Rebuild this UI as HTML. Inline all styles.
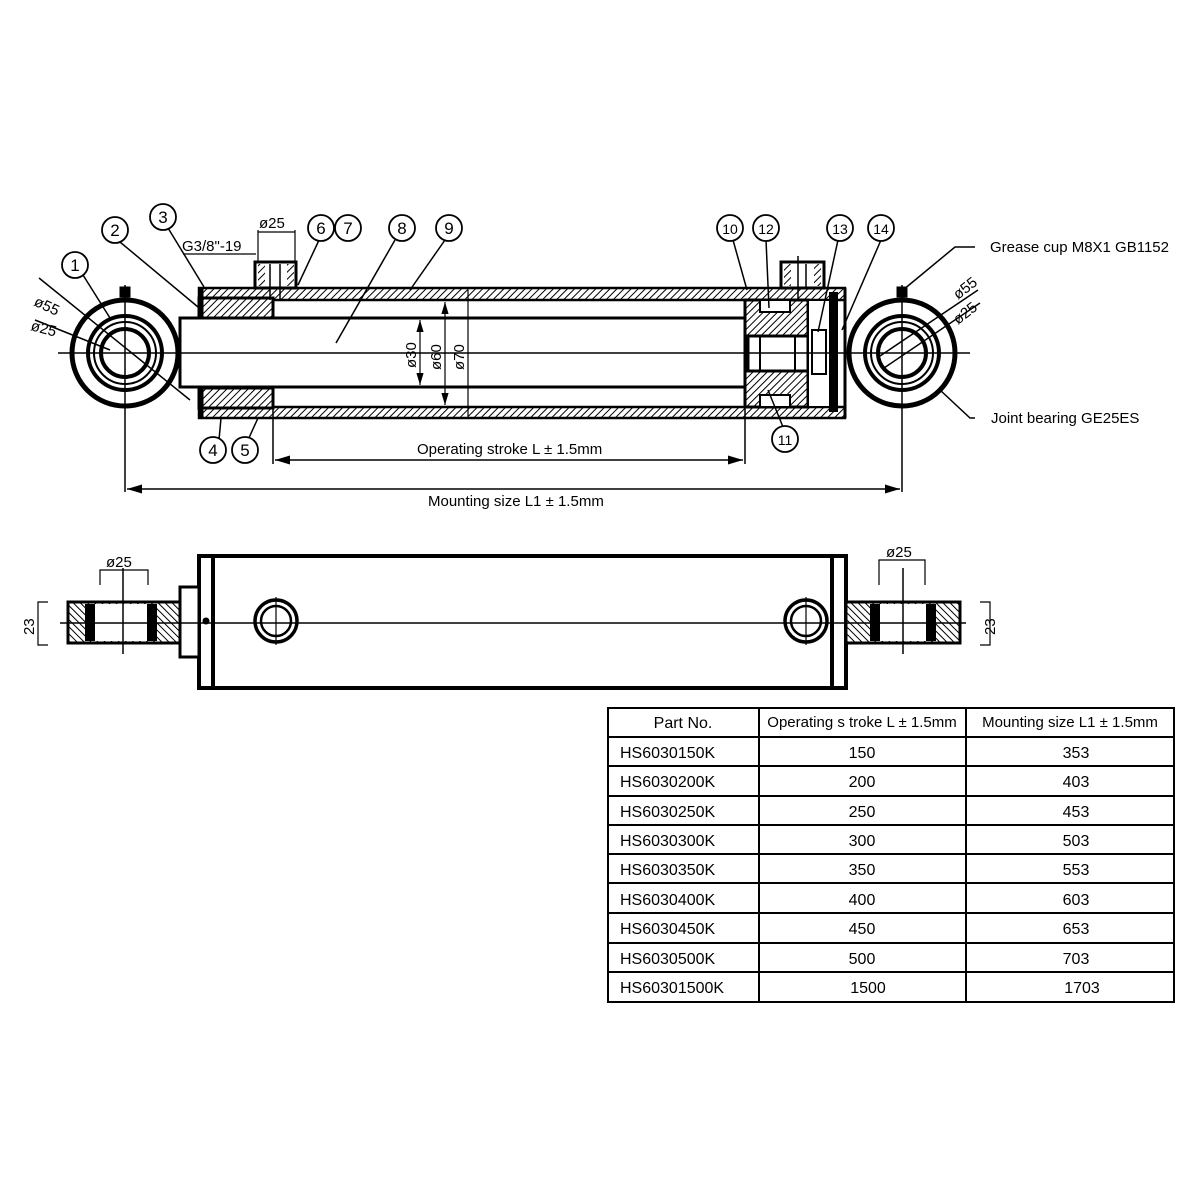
<!DOCTYPE html>
<html><head><meta charset="utf-8"><style>
html,body{margin:0;padding:0;background:#fff}
svg{display:block}
text{font-family:"Liberation Sans Narrow","Liberation Sans",sans-serif;fill:#000}
</style></head><body>
<svg width="1200" height="1200" viewBox="0 0 1200 1200" xmlns="http://www.w3.org/2000/svg">
<defs>
<pattern id="h" width="5" height="5" patternUnits="userSpaceOnUse" patternTransform="rotate(45)">
<rect width="5" height="5" fill="#fff"/><line x1="0" y1="0" x2="0" y2="5" stroke="#000" stroke-width="2"/></pattern>
<pattern id="h2" width="5" height="5" patternUnits="userSpaceOnUse" patternTransform="rotate(-45)">
<rect width="5" height="5" fill="#fff"/><line x1="0" y1="0" x2="0" y2="5" stroke="#000" stroke-width="2"/></pattern>
<marker id="a" viewBox="0 0 10 6" refX="10" refY="3" markerWidth="10" markerHeight="6" orient="auto-start-reverse"><path d="M0,0L10,3L0,6z"/></marker>
</defs>
<g stroke="#000" fill="none">
<!-- tube walls -->
<rect x="199" y="288" width="646" height="12" fill="url(#h)" stroke-width="2.5"/>
<rect x="199" y="407" width="646" height="11" fill="url(#h)" stroke-width="2.5"/>
<line x1="845" y1="288" x2="845" y2="418" stroke-width="3"/>
<!-- gland -->
<rect x="199" y="298" width="74" height="20" fill="url(#h)" stroke-width="3"/>
<rect x="199" y="388" width="74" height="20" fill="url(#h)" stroke-width="3"/>
<line x1="201" y1="288" x2="201" y2="418" stroke-width="5"/>
<!-- rod -->
<rect x="180" y="318" width="566" height="69" fill="#fff" stroke-width="3"/>
<!-- piston -->
<rect x="745" y="300" width="63" height="107" fill="url(#h)" stroke-width="3"/>
<rect x="760" y="300" width="30" height="12" fill="#fff" stroke-width="2"/>
<rect x="760" y="395" width="30" height="12" fill="#fff" stroke-width="2"/>
<rect x="748" y="336" width="60" height="35" fill="#fff" stroke-width="3"/>
<line x1="760" y1="336" x2="760" y2="371" stroke-width="2"/>
<line x1="795" y1="336" x2="795" y2="371" stroke-width="2"/>
<rect x="808" y="300" width="22" height="107" fill="#fff" stroke-width="2"/>
<rect x="812" y="330" width="14" height="44" fill="#fff" stroke-width="2"/>
<rect x="829" y="292" width="9" height="120" fill="#000" stroke="none"/>
<line x1="740" y1="300" x2="845" y2="300" stroke-width="2"/>
<!-- ports -->
<rect x="255" y="262" width="41" height="26" fill="#fff" stroke-width="3"/>
<rect x="258" y="264" width="7" height="22" fill="url(#h)" stroke="none"/>
<rect x="287" y="264" width="7" height="22" fill="url(#h)" stroke="none"/>
<line x1="270" y1="264" x2="270" y2="300" stroke-width="1.5"/>
<line x1="280" y1="264" x2="280" y2="300" stroke-width="1.5"/>
<rect x="781" y="262" width="43" height="26" fill="#fff" stroke-width="3"/>
<rect x="784" y="264" width="7" height="22" fill="url(#h)" stroke="none"/>
<rect x="814" y="264" width="7" height="22" fill="url(#h)" stroke="none"/>
<line x1="798" y1="256" x2="798" y2="300" stroke-width="1.5"/>
<line x1="806" y1="264" x2="806" y2="288" stroke-width="1.5"/>
<!-- eyes -->
<circle cx="125" cy="353" r="53" stroke-width="5"/>
<circle cx="125" cy="353" r="37" stroke-width="4"/>
<circle cx="125" cy="353" r="31" stroke-width="2"/>
<circle cx="125" cy="353" r="24" stroke-width="4"/>
<rect x="120" y="287" width="10" height="10" fill="#000"/>
<circle cx="902" cy="353" r="53" stroke-width="5"/>
<circle cx="902" cy="353" r="37" stroke-width="4"/>
<circle cx="902" cy="353" r="31" stroke-width="2"/>
<circle cx="902" cy="353" r="24" stroke-width="4"/>
<rect x="897" y="287" width="10" height="10" fill="#000"/>
<!-- center lines -->
<line x1="58" y1="353" x2="970" y2="353" stroke-width="1.5"/>
<line x1="125" y1="285" x2="125" y2="492" stroke-width="1.5"/>
<line x1="902" y1="285" x2="902" y2="492" stroke-width="1.5"/>
<line x1="273" y1="408" x2="273" y2="464" stroke-width="1.5"/>
<line x1="745" y1="408" x2="745" y2="464" stroke-width="1.5"/>
<!-- dims -->
<line x1="275" y1="460" x2="743" y2="460" stroke-width="1.5" marker-start="url(#a)" marker-end="url(#a)"/>
<line x1="127" y1="489" x2="900" y2="489" stroke-width="1.5" marker-start="url(#a)" marker-end="url(#a)"/>
<line x1="420" y1="320" x2="420" y2="385" stroke-width="1.2" marker-start="url(#a)" marker-end="url(#a)"/>
<line x1="445" y1="302" x2="445" y2="405" stroke-width="1.2" marker-start="url(#a)" marker-end="url(#a)"/>
<line x1="468" y1="290" x2="468" y2="416" stroke-width="1.2"/>
<line x1="258" y1="230" x2="258" y2="262" stroke-width="1.2"/>
<line x1="295" y1="230" x2="295" y2="262" stroke-width="1.2"/>
<line x1="258" y1="232" x2="295" y2="232" stroke-width="1.2"/>
<line x1="183" y1="254" x2="256" y2="254" stroke-width="1.2"/>
<!-- leaders -->
<g stroke-width="1.5">
<line x1="39" y1="278" x2="190" y2="400"/>
<line x1="35" y1="320" x2="110" y2="350"/>
<line x1="83" y1="275" x2="110" y2="318"/>
<line x1="120" y1="242" x2="198" y2="307"/>
<line x1="168" y1="228" x2="204" y2="287"/>
<line x1="320" y1="238" x2="298" y2="285"/>
<line x1="395" y1="240" x2="336" y2="343"/>
<line x1="445" y1="240" x2="410" y2="290"/>
<line x1="219" y1="440" x2="221" y2="418"/>
<line x1="248" y1="440" x2="258" y2="418"/>
<line x1="733" y1="240" x2="747" y2="290"/>
<line x1="766" y1="240" x2="769" y2="308"/>
<line x1="838" y1="240" x2="818" y2="332"/>
<line x1="881" y1="240" x2="842" y2="330"/>
<line x1="783" y1="427" x2="768" y2="390"/>
<polyline points="903,290 955,247 975,247"/>
<polyline points="940,390 970,418 975,418"/>
<line x1="880" y1="356" x2="978" y2="290"/>
<line x1="884" y1="368" x2="980" y2="303"/>
</g>
<!-- balloons -->
<g stroke-width="1.8" fill="#fff">
<circle cx="75" cy="265" r="13"/><circle cx="115" cy="230" r="13"/><circle cx="163" cy="217" r="13"/>
<circle cx="321" cy="228" r="13"/><circle cx="348" cy="228" r="13"/><circle cx="402" cy="228" r="13"/><circle cx="449" cy="228" r="13"/>
<circle cx="213" cy="450" r="13"/><circle cx="245" cy="450" r="13"/>
<circle cx="730" cy="228" r="13"/><circle cx="766" cy="228" r="13"/><circle cx="840" cy="228" r="13"/><circle cx="881" cy="228" r="13"/>
<circle cx="785" cy="439" r="13"/>
</g>
<!-- lower view -->
<rect x="199" y="556" width="647" height="132" fill="#fff" stroke-width="4"/>
<line x1="213" y1="556" x2="213" y2="688" stroke-width="4"/>
<line x1="832" y1="556" x2="832" y2="688" stroke-width="4"/>
<rect x="180" y="587" width="19" height="70" fill="#fff" stroke-width="3"/>
<rect x="68" y="602" width="112" height="41" fill="url(#h2)" stroke-width="3"/>
<rect x="85" y="604" width="10" height="37" fill="#000" stroke="none"/>
<rect x="95" y="604" width="52" height="37" fill="#fff" stroke="none"/>
<rect x="147" y="604" width="10" height="37" fill="#000" stroke="none"/>
<rect x="846" y="602" width="114" height="41" fill="url(#h2)" stroke-width="3"/>
<rect x="870" y="604" width="10" height="37" fill="#000" stroke="none"/>
<rect x="880" y="604" width="46" height="37" fill="#fff" stroke="none"/>
<rect x="926" y="604" width="10" height="37" fill="#000" stroke="none"/>
<circle cx="276" cy="621" r="21" stroke-width="3.5"/><circle cx="276" cy="621" r="15" stroke-width="2.5"/>
<circle cx="806" cy="621" r="21" stroke-width="3.5"/><circle cx="806" cy="621" r="15" stroke-width="2.5"/>
<line x1="60" y1="623" x2="966" y2="623" stroke-width="1.5"/>
<line x1="123" y1="568" x2="123" y2="654" stroke-width="1.5"/>
<line x1="903" y1="568" x2="903" y2="654" stroke-width="1.5"/>
<line x1="276" y1="597" x2="276" y2="645" stroke-width="1.2"/>
<line x1="806" y1="597" x2="806" y2="645" stroke-width="1.2"/>
<circle cx="206" cy="621" r="3" fill="#000"/>
<polyline points="100,585 100,570 148,570 148,585" stroke-width="1.2"/>
<polyline points="879,585 879,560 925,560 925,585" stroke-width="1.2"/>
<polyline points="48,602 38,602 38,645 48,645" stroke-width="1.2"/>
<polyline points="980,602 990,602 990,645 980,645" stroke-width="1.2"/>
</g>
<!-- labels -->
<g font-size="17" text-anchor="middle">
<text x="75" y="271">1</text><text x="115" y="236">2</text><text x="163" y="223">3</text>
<text x="321" y="234">6</text><text x="348" y="234">7</text><text x="402" y="234">8</text><text x="449" y="234">9</text>
<text x="213" y="456">4</text><text x="245" y="456">5</text>
<text x="730" y="234" font-size="14">10</text><text x="766" y="234" font-size="14">12</text><text x="840" y="234" font-size="14">13</text><text x="881" y="234" font-size="14">14</text>
<text x="785" y="445" font-size="14">11</text>
</g>
<g font-size="15">
<text x="182" y="251">G3/8"-19</text>
<text x="259" y="228">ø25</text>
<text x="33" y="305" transform="rotate(25 33 305)">ø55</text>
<text x="30" y="330" transform="rotate(15 30 330)">ø25</text>
<text x="958" y="300" transform="rotate(-38 958 300)">ø55</text>
<text x="958" y="325" transform="rotate(-38 958 325)">ø25</text>
<text x="416" y="368" transform="rotate(-90 416 368)">ø30</text>
<text x="441" y="370" transform="rotate(-90 441 370)">ø60</text>
<text x="464" y="370" transform="rotate(-90 464 370)">ø70</text>
<text x="106" y="567">ø25</text>
<text x="886" y="557">ø25</text>
<text x="34" y="635" transform="rotate(-90 34 635)">23</text>
<text x="995" y="635" transform="rotate(-90 995 635)">23</text>
<text x="990" y="252">Grease cup M8X1 GB1152</text>
<text x="991" y="423">Joint bearing GE25ES</text>
<text x="417" y="454">Operating stroke L ± 1.5mm</text>
<text x="428" y="506">Mounting size L1 ± 1.5mm</text>
</g>
<!-- table -->
<g stroke="#000" stroke-width="2" fill="none">
<rect x="608" y="708" width="566" height="294"/>
<line x1="759" y1="708" x2="759" y2="1002"/><line x1="966" y1="708" x2="966" y2="1002"/>
<line x1="608" y1="737" x2="1174" y2="737"/><line x1="608" y1="766" x2="1174" y2="766"/>
<line x1="608" y1="796" x2="1174" y2="796"/><line x1="608" y1="825" x2="1174" y2="825"/>
<line x1="608" y1="854" x2="1174" y2="854"/><line x1="608" y1="883" x2="1174" y2="883"/>
<line x1="608" y1="913" x2="1174" y2="913"/><line x1="608" y1="943" x2="1174" y2="943"/>
<line x1="608" y1="972" x2="1174" y2="972"/>
</g>
<g font-size="15">
<text x="683" y="728" text-anchor="middle" font-size="16">Part No.</text>
<text x="862" y="727" text-anchor="middle">Operating s troke L ± 1.5mm</text>
<text x="1070" y="727" text-anchor="middle">Mounting size L1 ± 1.5mm</text>
</g>
<g font-size="16" font-family="Liberation Sans,sans-serif">
<text x="620" y="758">HS6030150K</text><text x="862" y="758" text-anchor="middle">150</text><text x="1076" y="758" text-anchor="middle">353</text>
<text x="620" y="787">HS6030200K</text><text x="862" y="787" text-anchor="middle">200</text><text x="1076" y="787" text-anchor="middle">403</text>
<text x="620" y="817">HS6030250K</text><text x="862" y="817" text-anchor="middle">250</text><text x="1076" y="817" text-anchor="middle">453</text>
<text x="620" y="846">HS6030300K</text><text x="862" y="846" text-anchor="middle">300</text><text x="1076" y="846" text-anchor="middle">503</text>
<text x="620" y="875">HS6030350K</text><text x="862" y="875" text-anchor="middle">350</text><text x="1076" y="875" text-anchor="middle">553</text>
<text x="620" y="905">HS6030400K</text><text x="862" y="905" text-anchor="middle">400</text><text x="1076" y="905" text-anchor="middle">603</text>
<text x="620" y="934">HS6030450K</text><text x="862" y="934" text-anchor="middle">450</text><text x="1076" y="934" text-anchor="middle">653</text>
<text x="620" y="964">HS6030500K</text><text x="862" y="964" text-anchor="middle">500</text><text x="1076" y="964" text-anchor="middle">703</text>
<text x="620" y="993">HS60301500K</text><text x="868" y="993" text-anchor="middle">1500</text><text x="1082" y="993" text-anchor="middle">1703</text>
</g>
</svg>
</body></html>
